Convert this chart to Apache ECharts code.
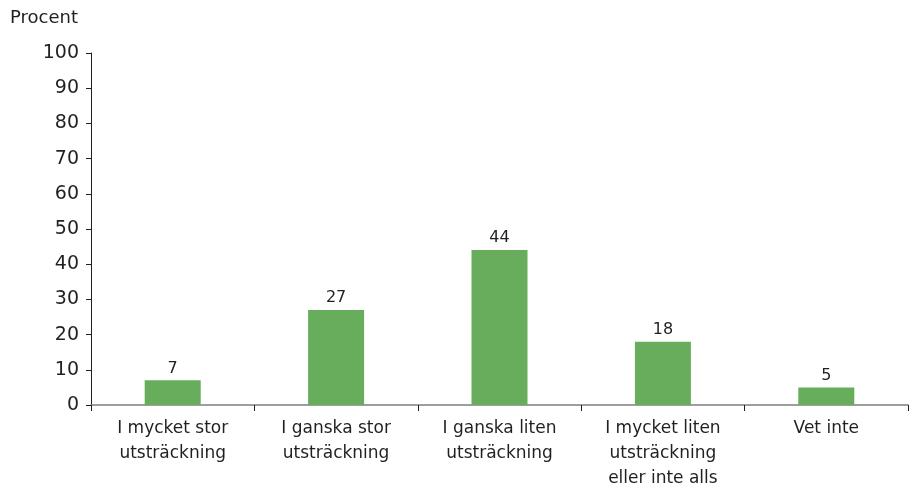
<!DOCTYPE html>
<html><head><meta charset="utf-8">
<script src="https://cdn.jsdelivr.net/npm/echarts@6/dist/echarts.min.js"></script>
<style>html,body{margin:0;padding:0;background:#fff}#c{width:912px;height:486px}</style>
</head><body><div id="c"></div>
<script>
const categories = ["I mycket stor\nutsträckning", "I ganska stor\nutsträckning", "I ganska liten\nutsträckning", "I mycket liten\nutsträckning\neller inte alls", "Vet inte"];
const values = [7, 27, 44, 18, 5];
const yTicks = {min: 0, max: 100, interval: 10};
const font = "DejaVu Sans";
const chart = echarts.init(document.getElementById('c'));
chart.setOption({
  animation: false,
  textStyle: {fontFamily: font},
  graphic: [{type: 'text', left: 10, top: 9, style: {text: 'Procent', font: '18px "DejaVu Sans"', fill: '#231f20'}}],
  grid: {left: 91, right: 4, top: 53, bottom: 81, containLabel: false, outerBoundsMode: 'none'},
  xAxis: {
    type: 'category', data: categories,
    axisLine: {lineStyle: {color: '#7f7f7f', width: 1.5}},
    axisTick: {show: true, length: 6, lineStyle: {color: '#231f20'}},
    axisLabel: {color: '#231f20', fontSize: 17, lineHeight: 25, margin: 11, fontFamily: font}
  },
  yAxis: {
    type: 'value', min: yTicks.min, max: yTicks.max, interval: yTicks.interval,
    axisLine: {show: true, lineStyle: {color: '#231f20', width: 1}},
    axisTick: {show: true, length: 5, lineStyle: {color: '#231f20'}},
    splitLine: {show: false},
    axisLabel: {color: '#231f20', fontSize: 19, margin: 12, fontFamily: font}
  },
  series: [{
    type: 'bar', data: values, barWidth: 56,
    itemStyle: {color: '#67ad5b'},
    label: {show: true, position: 'top', color: '#231f20', fontSize: 16, distance: 4, fontFamily: font}
  }]
});
</script></body></html>
